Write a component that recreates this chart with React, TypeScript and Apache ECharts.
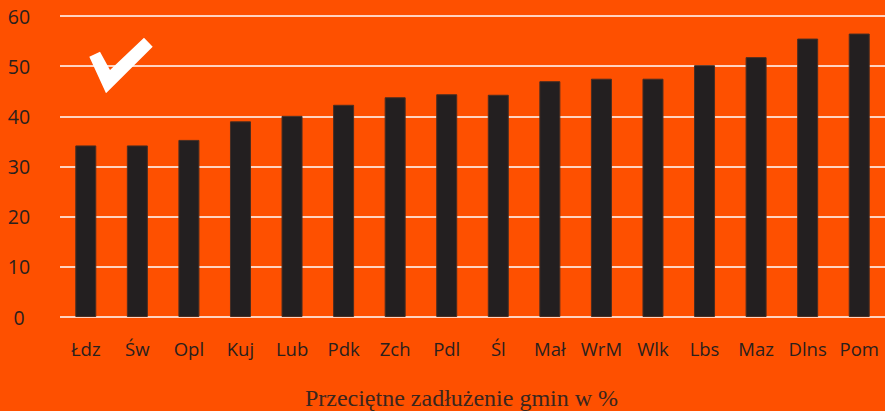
import React, { useEffect, useRef } from "react";
import * as echarts from "echarts";

const categories = ["Łdz", "Św", "Opl", "Kuj", "Lub", "Pdk", "Zch", "Pdl", "Śl", "Mał", "WrM", "Wlk", "Lbs", "Maz", "Dlns", "Pom"];
const values = [34.2, 34.2, 35.3, 39.0, 40.1, 42.3, 43.8, 44.4, 44.3, 47.0, 47.5, 47.5, 50.2, 51.8, 55.5, 56.5];
const yTicks = { min: 0, max: 60, interval: 10 };
const title = "Przeciętne zadłużenie gmin w %";

export default function App() {
  const ref = useRef<HTMLDivElement>(null);
  useEffect(() => {
    if (!ref.current) return;
    const chart = echarts.init(ref.current, null, { renderer: "svg" });
    chart.setOption({
      animation: false,
      backgroundColor: "#FE5000",
      grid: { left: 60, right: -3, top: 16, bottom: 94, containLabel: false },
      xAxis: {
        type: "category",
        data: categories,
        axisLine: { show: false },
        axisTick: { show: false },
        axisLabel: {
          color: "#2a201e",
          fontFamily: "Open Sans",
          fontSize: 18.5,
          margin: 22,
          interval: 0,
        },
      },
      yAxis: {
        type: "value",
        min: yTicks.min,
        max: yTicks.max,
        interval: yTicks.interval,
        axisLine: { show: false },
        axisTick: { show: false },
        splitLine: { lineStyle: { color: "#ffffff", width: 1.5 } },
        axisLabel: {
          color: "#2a201e",
          fontFamily: "Open Sans",
          fontSize: 19.5,
          align: "center",
          margin: 41,
        },
      },
      series: [
        {
          type: "bar",
          data: values,
          barWidth: 21,
          itemStyle: { color: "#231F20", borderColor: "#4a2e22", borderWidth: 1 },
        },
      ],
      graphic: [
        {
          type: "polygon",
          shape: {
            points: [
              [89.3, 56.7],
              [100, 51.7],
              [110, 70],
              [144, 37.7],
              [152.7, 46.7],
              [106, 93.3],
            ],
          },
          style: { fill: "#ffffff" },
        },
        {
          type: "text",
          x: 461.5,
          y: 398,
          style: {
            text: title,
            font: '24px "Liberation Serif"',
            fill: "#3a261e",
            align: "center",
            verticalAlign: "middle",
          },
        },
      ],
    });
    return () => chart.dispose();
  }, []);
  return (
    <div
      ref={ref}
      style={{ position: "fixed", left: 0, top: 0, width: 885, height: 411 }}
    />
  );
}
